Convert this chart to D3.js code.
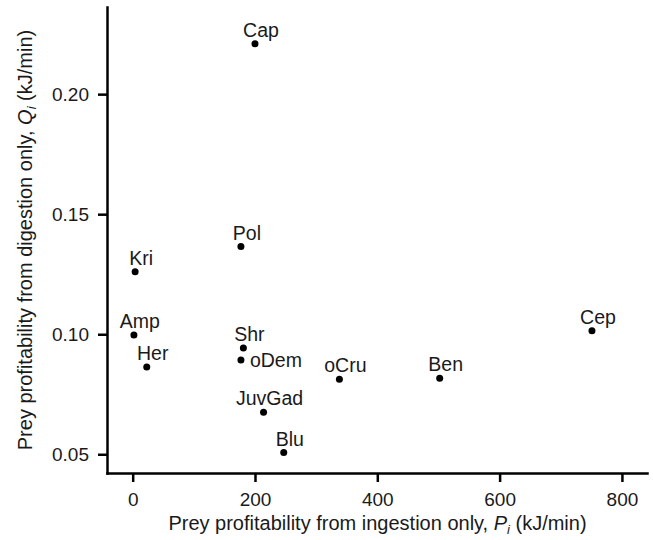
<!DOCTYPE html>
<html>
<head>
<meta charset="utf-8">
<script src="https://cdn.jsdelivr.net/npm/d3@7"></script>
<style>
  body { margin: 0; background: #fff; }
  svg { font-family: "Liberation Sans", Arial, sans-serif; }
</style>
</head>
<body>
<div id="chart"></div>
<script>
// Data
const preyNames = ["Cap", "Pol", "Kri", "Amp", "Her", "Shr", "oDem", "JuvGad", "Blu", "oCru", "Ben", "Cep"];
const ingestionP = [200, 177, 4, 2, 23, 181, 177, 214, 247, 338, 502, 751];
const digestionQ = [0.221, 0.1365, 0.126, 0.0997, 0.0864, 0.0943, 0.0893, 0.0675, 0.0507, 0.0813, 0.0817, 0.1014];
const xTicks = [0, 200, 400, 600, 800];
const yTicks = [0.05, 0.10, 0.15, 0.20];

const data = preyNames.map((name, i) => ({name: name, p: ingestionP[i], q: digestionQ[i]}));

// Dimensions and margins
const margin = {top: 7, right: 6, bottom: 67, left: 107};
const width = 653 - margin.left - margin.right;
const height = 540 - margin.top - margin.bottom;

const svg = d3.select("#chart")
    .append("svg")
    .attr("width", width + margin.left + margin.right)
    .attr("height", height + margin.top + margin.bottom)
    .append("g")
    .attr("transform", `translate(${margin.left},${margin.top})`);

// Scales
const xScale = d3.scaleLinear().domain([-42, 841]).range([0, width]);
const yScale = d3.scaleLinear().domain([0.0422, 0.2363]).range([height, 0]);

// Axes
const xAxis = svg.append("g")
    .attr("transform", `translate(0,${height})`)
    .call(d3.axisBottom(xScale).tickValues(xTicks).tickSize(9).tickSizeOuter(0).tickPadding(11));

const yAxis = svg.append("g")
    .call(d3.axisLeft(yScale).tickValues(yTicks).tickFormat(d3.format(".2f")).tickSize(9).tickSizeOuter(0).tickPadding(9));

[xAxis, yAxis].forEach(ax => {
    ax.select(".domain").attr("stroke", "#000").attr("stroke-width", 2.5).attr("stroke-linecap", "square");
    ax.selectAll(".tick line").attr("stroke", "#000").attr("stroke-width", 2.5);
    ax.selectAll(".tick text").attr("fill", "#1a1a1a").style("font-size", "19px").style("font-family", "Liberation Sans, Arial, sans-serif");
});

// Points
svg.selectAll("circle")
    .data(data)
    .enter()
    .append("circle")
    .attr("cx", d => xScale(d.p))
    .attr("cy", d => yScale(d.q))
    .attr("r", 3.5)
    .attr("fill", "#000");

// Labels (oDem sits to the right of its point)
svg.selectAll(".label")
    .data(data)
    .enter()
    .append("text")
    .attr("class", "label")
    .attr("x", d => d.name === "oDem" ? xScale(d.p) + 9 : xScale(d.p) + 6)
    .attr("y", d => d.name === "oDem" ? yScale(d.q) : yScale(d.q) - 7)
    .attr("dy", d => d.name === "oDem" ? "0.35em" : 0)
    .style("text-anchor", d => d.name === "oDem" ? "start" : "middle")
    .style("font-size", "19.5px")
    .attr("fill", "#1a1a1a")
    .text(d => d.name);

// Axis titles
const xTitle = svg.append("text")
    .attr("x", 377.5 - margin.left)
    .attr("y", height + 57)
    .style("text-anchor", "middle")
    .style("font-size", "20px")
    .attr("fill", "#1a1a1a");
xTitle.append("tspan").text("Prey profitability from ingestion only, ");
xTitle.append("tspan").style("font-style", "italic").text("P");
xTitle.append("tspan").style("font-style", "italic").style("font-size", "13px").attr("dy", 4).text("i");
xTitle.append("tspan").attr("dy", -4).text(" (kJ/min)");

const yTitle = svg.append("text")
    .attr("transform", "rotate(-90)")
    .attr("x", -height / 2)
    .attr("y", -75)
    .style("text-anchor", "middle")
    .style("font-size", "20px")
    .attr("fill", "#1a1a1a");
yTitle.append("tspan").text("Prey profitability from digestion only, ");
yTitle.append("tspan").style("font-style", "italic").text("Q");
yTitle.append("tspan").style("font-style", "italic").style("font-size", "13px").attr("dy", 4).text("i");
yTitle.append("tspan").attr("dy", -4).text(" (kJ/min)");
</script>
</body>
</html>
